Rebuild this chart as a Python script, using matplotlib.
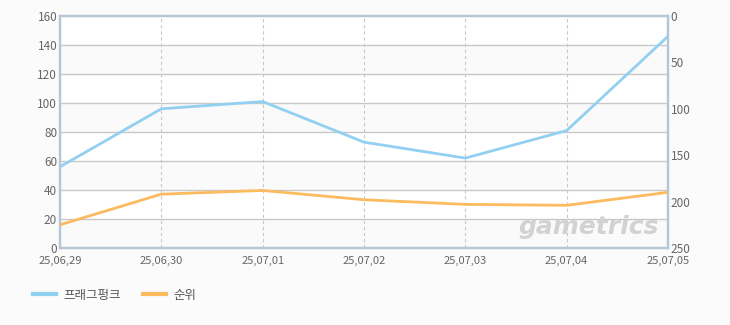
import matplotlib
matplotlib.use("Agg")
import matplotlib.pyplot as plt
from matplotlib.lines import Line2D

plt.rcParams['font.family'] = ['Noto Sans CJK KR', 'DejaVu Sans']

dates = ["25,06,29", "25,06,30", "25,07,01", "25,07,02", "25,07,03", "25,07,04", "25,07,05"]
fragpunk = [56, 96, 101, 73, 62, 81, 146]
rank = [225, 192, 188, 198, 203, 204, 190]
series_names = ["프래그펑크", "순위"]

blue = "#92d0f1"
orange = "#fbbb5e"
spine_c = "#b4c6d8"
tick_c = "#666666"

fig = plt.figure(figsize=(7.3, 3.25), dpi=100)
fig.patch.set_facecolor("#fbfbfb")
ax = fig.add_axes([60/730, 77/325, 608/730, 232/325])
ax.set_facecolor("white")

x = list(range(len(dates)))
ax.set_xlim(0, len(dates) - 1)
ax.set_ylim(0, 160)

# alternating bands
for lo in range(0, 160, 40):
    ax.axhspan(lo, lo + 20, color="#fafafa", zorder=0, lw=0)
for v in range(20, 160, 20):
    ax.axhline(v, color="#c8c8c8", lw=1, zorder=1)
for xi in x[1:-1]:
    ax.axvline(xi, color="#c8c8c8", lw=0.8, ls=(0, (3, 2.5)), zorder=1)

ax.plot(x, fragpunk, color=blue, lw=2, zorder=3, solid_joinstyle="round")

ax2 = ax.twinx()
ax2.set_ylim(250, 0)
ax2.plot(x, rank, color=orange, lw=2, zorder=3, solid_joinstyle="round")

ax.set_yticks(range(0, 161, 20))
ax2.set_yticks(range(0, 251, 50))
ax.set_xticks(x)
ax.set_xticklabels(dates)

for a in (ax, ax2):
    for s in a.spines.values():
        s.set_color(spine_c)
        s.set_linewidth(1.6)
    a.tick_params(colors=tick_c, labelsize=8.5, length=0, pad=2)
ax.tick_params(axis="x", pad=6, labelsize=8)

# watermark
ax.text(0.985, 0.04, "gametrics", transform=ax.transAxes, ha="right", va="bottom",
        fontsize=18, fontstyle="italic", fontweight="bold", color="#d2d2d2",
        family="DejaVu Sans", zorder=2)

handles = [Line2D([0], [0], color=blue, lw=3), Line2D([0], [0], color=orange, lw=3)]
fig.legend(handles, series_names, loc="lower left", bbox_to_anchor=(22/730, 12/325),
           ncol=2, frameon=False, fontsize=9, handlelength=1.8, handletextpad=0.6,
           columnspacing=1.8, labelcolor="#555555")

fig.savefig("out.png", dpi=100, facecolor=fig.get_facecolor())
